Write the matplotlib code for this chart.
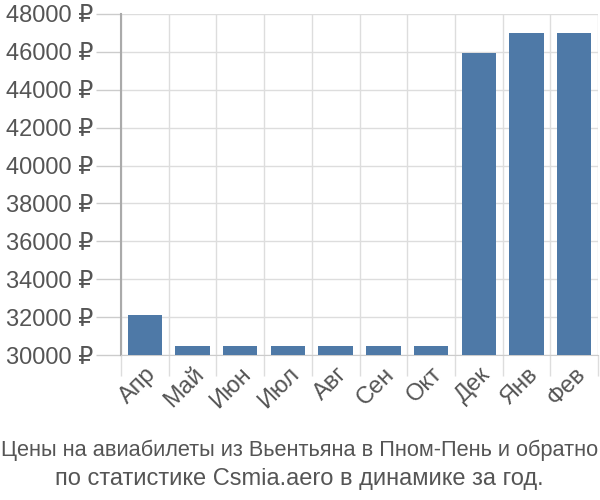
import matplotlib
matplotlib.use("Agg")
import matplotlib.pyplot as plt
import numpy as np

months = ["Апр", "Май", "Июн", "Июл", "Авг", "Сен", "Окт", "Дек", "Янв", "Фев"]
prices = [32100, 30450, 30450, 30450, 30450, 30450, 30450, 45950, 46980, 46980]
yticks = [30000, 32000, 34000, 36000, 38000, 40000, 42000, 44000, 46000, 48000]
title_line1 = "Цены на авиабилеты из Вьентьяна в Пном-Пень и обратно"
title_line2 = "по статистике Csmia.aero в динамике за год."

plt.rcParams['font.family'] = ['Liberation Sans', 'DejaVu Sans']

fig = plt.figure(figsize=(6, 5), dpi=100)
ax = fig.add_axes([121/600, 1-355/500, (598-121)/600, (355-14)/500])

x = np.arange(len(months))
ax.bar(x, prices, width=0.72, color="#4e79a7", zorder=3)
ax.set_xlim(-0.5, len(months)-0.5)
ax.set_ylim(30000, 48000)

ax.set_yticks(yticks)
ax.set_yticklabels([f"{v} ₽" for v in yticks], fontsize=17, color="#555555")
ax.tick_params(axis='y', length=18, color="#cccccc", width=1, pad=2)
ax.grid(axis='y', color="#dddddd", linewidth=1, zorder=0)

ax.set_xticks(np.arange(len(months)+1) - 0.5)
ax.set_xticklabels([])
ax.tick_params(axis='x', which='major', length=15, color="#dddddd", width=1)
ax.grid(axis='x', which='major', color="#dddddd", linewidth=1, zorder=0)
ax.set_xticks(x, minor=True)
ax.set_xticklabels(months, minor=True, rotation=45, ha='right', rotation_mode='anchor', fontsize=17, color="#555555")
ax.tick_params(axis='x', which='minor', length=0, pad=6)

for s in ['top', 'right']:
    ax.spines[s].set_visible(False)
ax.spines['bottom'].set_color("#cccccc")
ax.spines['left'].set_color("#aaaaaa")
ax.spines['left'].set_linewidth(1.5)

fig.text(300/600, 1-456/500, title_line1, ha='center', va='baseline', fontsize=15.7, color="#555555")
fig.text(299/600, 1-485/500, title_line2, ha='center', va='baseline', fontsize=17.0, color="#555555")

fig.savefig("out.png", dpi=100)
